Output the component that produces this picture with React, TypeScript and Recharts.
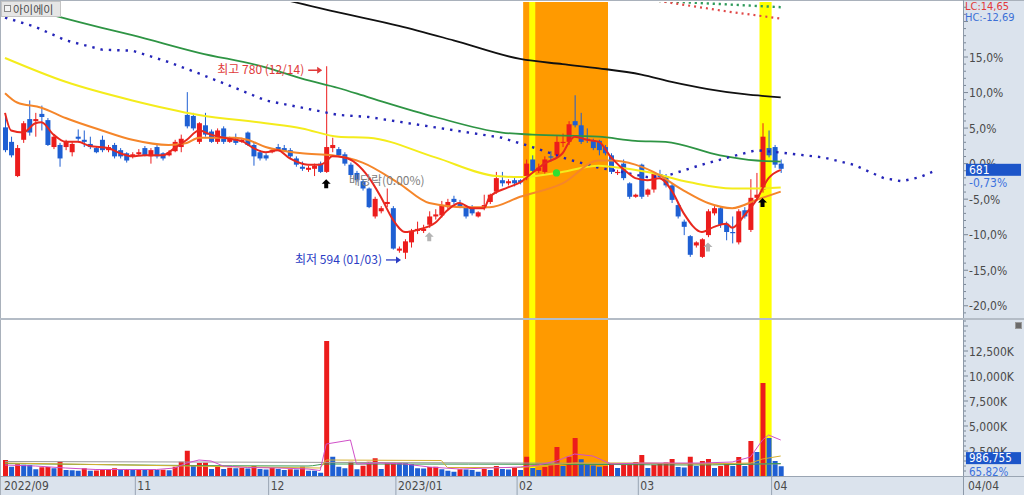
import React from 'react';
import { ComposedChart, Bar, Line, XAxis, YAxis, ReferenceArea, Cell } from 'recharts';

// ---------- fonts & colours ----------
const FONT = '"Liberation Sans Narrow", "DejaVu Sans Condensed", "Liberation Sans", "Noto Sans CJK KR", sans-serif';
const KFONT = '"Noto Sans CJK KR", "Noto Sans", sans-serif';
const UP = '#ec1c1c';
const DOWN = '#1e5fd3';
const PANEL_BG = '#dbe3ed';
const AXIS_TEXT = '#4a4a4a';

// ---------- layout ----------
const SLOT_COUNT = 158; // trading days shown + empty future slots
const SLOT_W = 6.06;
const PLOT_LEFT = 2;
const PLOT_W = SLOT_COUNT * SLOT_W;
const AXIS_W = 1024 - PLOT_LEFT - PLOT_W;
const PANEL_X = 963;

// ---------- data ----------
const stockName = '아이에이';
const basePrice = 686;

const monthStarts = [0, 22, 44, 65, 85, 105, 127];
const monthLabels = ['2022/09', '11', '12', '2023/01', '02', '03', '04'];
const lastDateLabel = '04/04';

const opens = [
  721, 707, 674, 709, 729, 727, 734, 728, 702, 704, 702, 697, 712, 709, 705, 701, 709, 699, 704, 699,
  696, 693, 695, 701, 693, 702, 696, 694, 698, 702, 733, 732, 707, 723, 717, 707, 720, 707, 710, 707,
  716, 704, 697, 694, 697, 702, 701, 699, 691, 683, 680, 681, 686, 678, 701, 700, 695, 685, 677, 669,
  662, 635, 640, 647, 643, 602, 600, 610, 621, 621, 627, 635, 636, 644, 652, 648, 644, 644, 635, 643,
  649, 659, 670, 667, 670, 670, 672, 690, 679, 678, 693, 694, 706, 707, 727, 723, 710, 708, 708, 702,
  694, 677, 686, 667, 654, 685, 656, 661, 676, 674, 665, 646, 630, 616, 607, 596, 617, 638, 643, 628,
  620, 610, 641, 622, 653, 661, 701, 702, 686,
];
const highs = [
  733, 712, 704, 727, 747, 735, 742, 730, 714, 706, 709, 707, 719, 718, 712, 703, 713, 704, 706, 701,
  697, 697, 700, 703, 701, 705, 697, 699, 709, 714, 755, 735, 726, 735, 719, 720, 722, 712, 715, 711,
  717, 706, 699, 696, 701, 705, 704, 701, 693, 688, 684, 686, 688, 780, 711, 702, 697, 687, 679, 671,
  663, 654, 645, 662, 645, 606, 613, 623, 630, 627, 640, 642, 650, 652, 655, 651, 646, 646, 640, 656,
  657, 678, 678, 671, 672, 671, 690, 694, 686, 693, 698, 713, 715, 727, 752, 735, 720, 710, 709, 704,
  696, 680, 690, 668, 657, 686, 662, 677, 680, 676, 667, 649, 632, 617, 611, 614, 642, 645, 645, 630,
  635, 642, 644, 671, 677, 725, 718, 704, 690,
];
const lows = [
  697, 692, 673, 706, 713, 712, 718, 703, 700, 683, 699, 693, 708, 702, 700, 696, 697, 697, 691, 691,
  687, 691, 694, 693, 686, 691, 689, 693, 697, 697, 720, 718, 705, 712, 706, 705, 705, 706, 704, 706,
  703, 684, 689, 689, 696, 698, 697, 691, 683, 679, 678, 674, 677, 677, 697, 693, 684, 673, 668, 660,
  643, 633, 638, 644, 603, 600, 594, 605, 618, 619, 624, 632, 634, 642, 647, 643, 633, 636, 634, 641,
  647, 657, 664, 665, 664, 666, 670, 677, 677, 676, 688, 692, 702, 704, 721, 705, 706, 699, 694, 694,
  676, 675, 670, 652, 653, 652, 654, 658, 671, 663, 648, 633, 617, 596, 605, 595, 615, 636, 624, 612,
  609, 608, 633, 620, 650, 658, 692, 682, 677,
];
const closes = [
  699, 694, 701, 725, 716, 729, 731, 704, 712, 691, 707, 705, 710, 707, 702, 697, 699, 702, 693, 693,
  689, 695, 697, 694, 699, 693, 691, 697, 707, 710, 722, 720, 725, 714, 707, 718, 707, 710, 706, 709,
  704, 693, 691, 691, 699, 699, 698, 693, 685, 681, 682, 684, 678, 702, 704, 694, 686, 675, 670, 662,
  644, 652, 643, 649, 604, 604, 611, 621, 623, 623, 635, 637, 646, 649, 649, 645, 635, 638, 639, 646,
  656, 672, 667, 669, 667, 668, 686, 679, 682, 690, 692, 707, 707, 724, 723, 707, 709, 701, 699, 696,
  678, 678, 672, 654, 656, 654, 661, 676, 673, 665, 651, 635, 625, 598, 610, 613, 640, 643, 627, 620,
  619, 640, 635, 653, 656, 712, 694, 685, 681,
];

// daily volume, thousands of shares
const volumes = [
  1600, 930, 1170, 1130, 1100, 670, 870, 900, 770, 1430, 600, 580, 530, 770, 530, 560, 600, 650, 770, 600,
  700, 650, 680, 620, 640, 600, 620, 580, 930, 1430, 2530, 1100, 1300, 1330, 700, 930, 700, 830, 770, 800,
  750, 1000, 700, 650, 830, 700, 600, 667, 650, 933, 530, 520, 330, 13500, 1930, 930, 770, 1430, 670, 1030,
  1430, 1770, 700, 1270, 1330, 1300, 1270, 1200, 770, 760, 900, 930, 670, 530, 430, 670, 650, 600, 430, 700,
  600, 1000, 700, 650, 800, 600, 1930, 800, 600, 900, 1100, 2900, 1000, 1930, 3800, 1670, 1100, 1050, 930, 1000,
  1300, 800, 1100, 1150, 1400, 2100, 800, 1100, 1300, 1350, 1700, 900, 850, 1930, 1000, 1500, 1700, 800, 1000, 1300,
  1000, 1900, 1000, 3500, 2400, 9300, 3800, 1499.17, 986.755,
];

// moving-average readings: [slot, price]
const ma5Pts: [number, number][] = [
  [0, 735], [1, 718], [3, 716], [5, 725], [6, 726], [8, 714], [10, 707], [12, 707], [14, 703], [17, 701],
  [19, 696], [21, 693], [23, 694], [26, 694], [28, 701], [30, 709], [32, 718], [34, 714], [37, 710], [39, 708],
  [41, 701], [43, 697], [45, 699], [47, 691], [50, 685], [52, 685], [53, 688], [54, 693], [56, 692], [60, 673],
  [62, 654], [64, 632], [66, 620], [68, 622], [71, 629], [73, 641], [75, 648], [77, 643], [79, 643], [80, 654],
  [83, 663], [85, 668], [87, 677], [89, 686], [92, 696], [93, 706], [94, 712], [96, 709], [98, 707], [100, 692],
  [103, 676], [104, 672], [106, 670], [108, 672], [110, 660], [112, 638], [115, 620], [117, 625], [119, 628],
  [120, 624], [122, 636], [124, 651], [126, 672], [128, 680],
];
const ma20Pts: [number, number][] = [
  [0, 754], [2, 745], [6, 740], [10, 730], [16, 718], [21, 709], [27, 704], [30, 706], [32, 711], [38, 711],
  [40, 709], [43, 702], [49, 696], [54, 694], [59, 687], [65, 667], [70, 648], [76, 644], [80, 644], [85, 654],
  [92, 667], [98, 689], [100, 689], [104, 685], [107, 678], [112, 660], [116, 648], [120, 643], [124, 651], [128, 659],
];
const ma60Pts: [number, number][] = [
  [0, 788], [10, 765], [21, 747], [32, 733], [43, 725], [49, 720], [55, 712], [60, 711], [71, 692], [81, 674],
  [85, 673], [91, 677], [98, 684], [100, 683], [106, 678], [113, 668], [120, 662], [124, 662], [128, 663],
];
const ma120Pts: [number, number][] = [
  [0, 842], [8, 829], [16, 817], [21, 810], [32, 793], [43, 779], [49, 768], [55, 759], [60, 750], [71, 731],
  [82, 716], [87, 714], [98, 712], [104, 708], [109, 707], [118, 694], [124, 689], [128, 688],
];
const ma240Pts: [number, number][] = [
  [45, 846], [47, 843], [55, 832], [65, 819], [74, 805], [85, 787], [92, 782], [98, 778], [105, 772], [110, 765],
  [116, 758], [122, 753], [128, 750],
];
const leadPts: [number, number][] = [
  [0, 827], [5, 818], [10, 805], [16, 796], [21, 795], [27, 784], [32, 773], [38, 759], [43, 747], [49, 740],
  [55, 733], [60, 731], [71, 721], [82, 711], [87, 702], [93, 690], [98, 682], [100, 680], [106, 673], [109, 674],
  [115, 685], [120, 693], [124, 699], [129, 696], [135, 692], [140, 685], [145, 672], [148, 669], [151, 673], [153, 678],
];
const spanUpPts: [number, number][] = [[100, 848], [108, 843], [118, 840], [128, 837]];
const spanDnPts: [number, number][] = [[100, 850], [109, 842], [119, 833], [128, 826]];

// volume averages, thousands of shares
const vma5Pts: [number, number][] = [
  [0, 1100], [5, 1000], [10, 800], [15, 650], [20, 650], [25, 650], [28, 800], [30, 1300], [32, 1600], [34, 1500],
  [36, 1000], [40, 850], [45, 800], [50, 700], [52, 550], [53, 3200], [57, 3600], [58, 1200], [62, 1300], [66, 1200],
  [70, 900], [75, 700], [80, 800], [85, 900], [88, 1100], [91, 1500], [94, 2200], [97, 2000], [100, 1200], [105, 1300],
  [110, 1300], [115, 1300], [120, 1400], [123, 1900], [125, 3600], [126, 4100], [128, 3600],
];
const vma20Pts: [number, number][] = [
  [0, 1300], [20, 1100], [40, 900], [52, 800], [53, 1600], [72, 1550], [73, 850], [85, 850], [94, 1300], [105, 1300],
  [115, 1200], [123, 1300], [125, 1700], [128, 2000],
];
const vma60Pts: [number, number][] = [[0, 1250], [50, 1000], [53, 1200], [100, 1150], [113, 1100], [128, 1250]];
const vma120Pts: [number, number][] = [[0, 1450], [60, 1350], [128, 1200]];

// chart signals
const blackArrows = [{ i: 53, price: 666 }, { i: 125, price: 648 }];
const grayArrows = [{ i: 70, price: 615 }, { i: 116, price: 605 }];
const greenSignals = [{ i: 91, price: 677 }];
const exDividend = { i: 63, price: 669, text: '배당락(0.00%)' };
const highlightOrange = [86, 99];
const highlightYellow: [number, number][] = [[87, 87], [125, 126]];

// ---------- derived values ----------
const lastIdx = closes.length - 1;
const lastClose = closes[lastIdx];
const lastVol = volumes[lastIdx];
const periodHigh = Math.max(...highs);
const periodLow = Math.min(...lows);
const highIdx = highs.indexOf(periodHigh);
const lowIdx = lows.indexOf(periodLow);

const dateOf = (idx: number) => {
  // labels for the extreme days
  const map: Record<number, string> = { 53: '12/14', 66: '01/03' };
  return map[idx] ?? '';
};

const pctOf = (p: number) => (p / basePrice - 1) * 100;
const fmtNum = (v: number, d: number) => v.toFixed(d).replace('.', ',');
const fmtPct = (k: number, d: number) => (k < 0 ? '-' : '') + fmtNum(Math.abs(k), d) + '%';

type Row = Record<string, number | null> & { i: number };
const rows: Row[] = Array.from({ length: SLOT_COUNT }, (_, i) => ({
  i,
  open: opens[i] ?? null,
  high: highs[i] ?? null,
  low: lows[i] ?? null,
  close: closes[i] ?? null,
  vol: volumes[i] ?? null,
}));
const place = (key: string, pts: [number, number][]) => {
  for (const [i, v] of pts) rows[i][key] = v;
};
place('ma5', ma5Pts);
place('ma20', ma20Pts);
place('ma60', ma60Pts);
place('ma120', ma120Pts);
place('ma240', ma240Pts);
place('lead', leadPts);
place('spanUp', spanUpPts);
place('spanDn', spanDnPts);
place('vma5', vma5Pts);
place('vma20', vma20Pts);
place('vma60', vma60Pts);
place('vma120', vma120Pts);
blackArrows.forEach((m) => (rows[m.i].blackArrow = m.price));
grayArrows.forEach((m) => (rows[m.i].grayArrow = m.price));
greenSignals.forEach((m) => (rows[m.i].greenSig = m.price));
rows[exDividend.i].exDiv = exDividend.price;
rows[highIdx].hiMark = periodHigh;
rows[lowIdx].loMark = periodLow;

const volColor = (i: number) => (i > 0 && volumes[i] < volumes[i - 1] ? DOWN : UP);

// ---------- ticks ----------
const priceTicks: number[] = [];
for (let k = -21; k <= 22; k++) priceTicks.push(basePrice * (1 + k / 100));
priceTicks.push(lastClose);
const pctLabelMax = 15;

const volTicks: number[] = [];
for (let v = 500; v <= 15500; v += 500) volTicks.push(v);
volTicks.push(lastVol);
const volLabelMax = 12500;

// ---------- custom renderers ----------
const Candle = (props: any) => {
  const { x, y, width, height, payload } = props;
  if (!payload || payload.open == null) return <g />;
  const { open, close, high, low } = payload;
  const top = Math.min(y, y + height);
  const h = Math.abs(height);
  const toY = (v: number) => top + ((high - v) / (high - low)) * h;
  const color = close >= open ? UP : DOWN;
  const b1 = toY(Math.max(open, close));
  const b2 = toY(Math.min(open, close));
  const cx = x + width / 2;
  return (
    <g>
      <line x1={cx} x2={cx} y1={top} y2={top + h} stroke={color} strokeWidth={1} />
      <rect x={x} y={b1} width={width} height={Math.max(1.2, b2 - b1)} fill={color} />
    </g>
  );
};

const arrowPath = (cx: number, cy: number) =>
  `M${cx},${cy - 5} L${cx + 4.5},${cy - 0.5} L${cx + 2},${cy - 0.5} L${cx + 2},${cy + 4} L${cx - 2},${cy + 4} L${cx - 2},${cy - 0.5} L${cx - 4.5},${cy - 0.5} Z`;

const makeArrowDot = (fill: string) => (p: any) => {
  if (p.value == null || p.cy == null) return <g key={p.key ?? `a${p.index}`} />;
  return <path key={p.key ?? `a${p.index}`} d={arrowPath(p.cx, p.cy)} fill={fill} />;
};

const greenDot = (p: any) => {
  if (p.value == null || p.cy == null) return <g key={p.key ?? `g${p.index}`} />;
  return <circle key={p.key ?? `g${p.index}`} cx={p.cx} cy={p.cy} r={3.6} fill="#30e030" />;
};

const exDivDot = (p: any) => {
  if (p.value == null || p.cy == null) return <g key={p.key ?? `e${p.index}`} />;
  return (
    <text key={p.key ?? `e${p.index}`} x={p.cx} y={p.cy + 4} textAnchor="middle" fontSize={12} fill="#808080" fontFamily={KFONT}>
      {exDividend.text}
    </text>
  );
};

const hiDot = (p: any) => {
  if (p.value == null || p.cy == null) return <g key={p.key ?? `h${p.index}`} />;
  const y = p.cy + 4;
  const end = p.cx - 4;
  return (
    <g key={p.key ?? `h${p.index}`}>
      <text x={end - 18} y={y + 4} textAnchor="end" fontSize={12} fill="#e03a3a" fontFamily={KFONT}>
        {`최고 ${periodHigh} (${dateOf(highIdx)})`}
      </text>
      <line x1={end - 14} x2={end - 4} y1={y} y2={y} stroke="#e03a3a" strokeWidth={1.3} />
      <path d={`M${end},${y} L${end - 5},${y - 3.5} L${end - 5},${y + 3.5} Z`} fill="#e03a3a" />
    </g>
  );
};

const loDot = (p: any) => {
  if (p.value == null || p.cy == null) return <g key={p.key ?? `l${p.index}`} />;
  const y = p.cy + 1;
  const end = p.cx - 4;
  return (
    <g key={p.key ?? `l${p.index}`}>
      <text x={end - 19} y={y + 4} textAnchor="end" fontSize={12} fill="#2a3cc4" fontFamily={KFONT}>
        {`최저 ${periodLow} (${dateOf(lowIdx)})`}
      </text>
      <line x1={end - 15} x2={end - 4} y1={y} y2={y} stroke="#2a3cc4" strokeWidth={1.3} />
      <path d={`M${end},${y} L${end - 5},${y - 3.5} L${end - 5},${y + 3.5} Z`} fill="#2a3cc4" />
    </g>
  );
};

const PriceTick = (props: any) => {
  const { y, payload } = props;
  const v = payload.value as number;
  if (v === lastClose) {
    return (
      <g>
        <rect x={PANEL_X + 3} y={y - 5} width={55} height={12} fill="#1c55c9" />
        <text x={PANEL_X + 6} y={y + 5.5} fontSize={12} fill="#ffffff" fontFamily={FONT}>{lastClose}</text>
        <text x={PANEL_X + 6} y={y + 18} fontSize={12} fill="#3b72de" fontFamily={FONT}>{fmtPct(pctOf(lastClose), 2)}</text>
      </g>
    );
  }
  const k = Math.round(pctOf(v));
  const major = k % 5 === 0;
  return (
    <g>
      <line x1={PANEL_X} x2={PANEL_X + (major ? 5 : 3)} y1={y} y2={y} stroke="#7b8796" />
      {major && k <= pctLabelMax && (
        <text x={PANEL_X + 6} y={y + 4.5} fontSize={12} fill={AXIS_TEXT} fontFamily={FONT}>
          {fmtPct(k, 1)}
        </text>
      )}
    </g>
  );
};

const VolTick = (props: any) => {
  const { y, payload } = props;
  const v = payload.value as number;
  if (v === lastVol) {
    const ratio = (volumes[lastIdx] / volumes[lastIdx - 1]) * 100;
    return (
      <g>
        <rect x={PANEL_X + 3} y={y - 14} width={55} height={12} fill="#1c55c9" />
        <text x={PANEL_X + 6} y={y - 4} fontSize={11.5} fill="#ffffff" fontFamily={FONT}>
          {Math.round(lastVol * 1000).toLocaleString('en-US')}
        </text>
        <text x={PANEL_X + 6} y={y + 9.5} fontSize={11.5} fill="#3b72de" fontFamily={FONT}>{fmtNum(ratio, 2) + '%'}</text>
      </g>
    );
  }
  const major = v % 2500 === 0;
  return (
    <g>
      <line x1={PANEL_X} x2={PANEL_X + (major ? 5 : 3)} y1={y} y2={y} stroke="#7b8796" />
      {major && v <= volLabelMax && (
        <text x={PANEL_X + 6} y={y + 4.5} fontSize={12} fill={AXIS_TEXT} fontFamily={FONT}>
          {v.toLocaleString('en-US') + 'K'}
        </text>
      )}
    </g>
  );
};

const MonthTick = (props: any) => {
  const { x, payload } = props;
  const idx = monthStarts.indexOf(payload.value);
  const start = x - SLOT_W / 2;
  return (
    <g>
      {payload.value !== 0 && <line x1={start} x2={start} y1={156} y2={175} stroke="#98a4b3" />}
      <text x={start + 2} y={170} fontSize={12} fill={AXIS_TEXT} fontFamily={FONT}>
        {monthLabels[idx]}
      </text>
    </g>
  );
};

const bands = (yAxisId: string) => [
  <ReferenceArea key={`o-${yAxisId}`} yAxisId={yAxisId} x1={highlightOrange[0]} x2={highlightOrange[1]} fill="#ff9a00" fillOpacity={1} stroke="none" />,
  ...highlightYellow.map(([a, b]) => (
    <ReferenceArea key={`y-${yAxisId}-${a}`} yAxisId={yAxisId} x1={a} x2={b} fill="#ffff00" fillOpacity={1} stroke="none" />
  )),
];

const lineProps = { dot: false, connectNulls: true, isAnimationActive: false, activeDot: false } as const;

function PriceChart() {
  return (
    <ComposedChart width={1024} height={320} data={rows} margin={{ top: 2, right: 0, bottom: 2, left: PLOT_LEFT }}>
      <XAxis dataKey="i" type="category" hide />
      <YAxis
        yAxisId="p"
        orientation="right"
        width={AXIS_W}
        domain={[537, 842]}
        allowDataOverflow
        ticks={priceTicks}
        interval={0}
        tick={<PriceTick />}
        axisLine={false}
        tickLine={false}
      />
      {bands('p')}
      <Line yAxisId="p" dataKey="spanUp" stroke="#2e9a5a" strokeWidth={2.4} strokeDasharray="2.2 3.8" type="linear" {...lineProps} />
      <Line yAxisId="p" dataKey="spanDn" stroke="#e04848" strokeWidth={2.2} strokeDasharray="2 4" type="linear" {...lineProps} />
      <Line yAxisId="p" dataKey="ma240" stroke="#111111" strokeWidth={1.8} type="monotone" {...lineProps} />
      <Line yAxisId="p" dataKey="ma120" stroke="#2e9444" strokeWidth={1.8} type="monotone" {...lineProps} />
      <Line yAxisId="p" dataKey="lead" stroke="#2424b8" strokeWidth={2.4} strokeDasharray="2.4 6" type="linear" {...lineProps} />
      <Line yAxisId="p" dataKey="ma60" stroke="#f4ec1c" strokeWidth={2} type="monotone" {...lineProps} />
      <Bar yAxisId="p" dataKey={(d: any) => (d.open == null ? null : [d.low, d.high])} shape={Candle} barSize={5} isAnimationActive={false} />
      <Line yAxisId="p" dataKey="ma20" stroke="#f5862a" strokeWidth={2} type="monotone" {...lineProps} />
      <Line yAxisId="p" dataKey="ma5" stroke="#e8281e" strokeWidth={2} type="monotone" {...lineProps} />
      <Line yAxisId="p" dataKey="blackArrow" stroke="none" isAnimationActive={false} dot={makeArrowDot('#000000')} activeDot={false} />
      <Line yAxisId="p" dataKey="grayArrow" stroke="none" isAnimationActive={false} dot={makeArrowDot('#b4b4b4')} activeDot={false} />
      <Line yAxisId="p" dataKey="greenSig" stroke="none" isAnimationActive={false} dot={greenDot} activeDot={false} />
      <Line yAxisId="p" dataKey="exDiv" stroke="none" isAnimationActive={false} dot={exDivDot} activeDot={false} />
      <Line yAxisId="p" dataKey="hiMark" stroke="none" isAnimationActive={false} dot={hiDot} activeDot={false} />
      <Line yAxisId="p" dataKey="loMark" stroke="none" isAnimationActive={false} dot={loDot} activeDot={false} />
    </ComposedChart>
  );
}

function VolumeChart() {
  return (
    <ComposedChart width={1024} height={175} data={rows} margin={{ top: 0, right: 0, bottom: 0, left: PLOT_LEFT }}>
      <XAxis
        dataKey="i"
        type="category"
        ticks={monthStarts}
        interval={0}
        tick={<MonthTick />}
        axisLine={false}
        tickLine={false}
        height={19}
      />
      <YAxis
        yAxisId="v"
        orientation="right"
        width={AXIS_W}
        domain={[0, 15600]}
        allowDataOverflow
        ticks={volTicks}
        interval={0}
        tick={<VolTick />}
        axisLine={false}
        tickLine={false}
      />
      {bands('v')}
      <Bar yAxisId="v" dataKey="vol" barSize={5} isAnimationActive={false}>
        {rows.map((r) => (
          <Cell key={r.i} fill={r.vol == null ? 'none' : volColor(r.i)} />
        ))}
      </Bar>
      <Line yAxisId="v" dataKey="vma120" stroke="#9a9a9a" strokeWidth={1} type="monotone" {...lineProps} />
      <Line yAxisId="v" dataKey="vma60" stroke="#3c9a50" strokeWidth={1} type="monotone" {...lineProps} />
      <Line yAxisId="v" dataKey="vma20" stroke="#d6b030" strokeWidth={1} type="linear" {...lineProps} />
      <Line yAxisId="v" dataKey="vma5" stroke="#d050c8" strokeWidth={1} type="linear" {...lineProps} />
    </ComposedChart>
  );
}

export default function App() {
  const lc = ((lastClose - periodLow) / periodLow) * 100;
  const hc = ((lastClose - periodHigh) / periodHigh) * 100;
  return (
    <div style={{ position: 'absolute', left: 0, top: 0, width: 1024, height: 495, background: '#ffffff', overflow: 'hidden', fontFamily: FONT }}>
      <div style={{ position: 'absolute', left: PANEL_X, top: 0, width: 1024 - PANEL_X, height: 476, background: PANEL_BG }} />
      <div style={{ position: 'absolute', left: 0, top: 476, width: 1024, height: 19, background: PANEL_BG }} />
      <div style={{ position: 'absolute', left: 0, top: 0 }}>
        <PriceChart />
      </div>
      <div style={{ position: 'absolute', left: 0, top: 320 }}>
        <VolumeChart />
      </div>
      {/* frame lines */}
      <div style={{ position: 'absolute', left: 0, top: 0, width: 1024, height: 1, background: '#a9b1bb' }} />
      <div style={{ position: 'absolute', left: 0, top: 0, width: 1, height: 495, background: '#a9b1bb' }} />
      <div style={{ position: 'absolute', left: PANEL_X, top: 0, width: 1, height: 495, background: '#8d99a8' }} />
      <div style={{ position: 'absolute', left: 0, top: 318, width: 1024, height: 2, background: '#b4bcc6' }} />
      <div style={{ position: 'absolute', left: 0, top: 476, width: 1024, height: 1, background: '#9aa5b3' }} />
      {/* stock name tag */}
      <div
        style={{
          position: 'absolute', left: 1, top: 1, width: 60, height: 16, background: '#e6e6e6',
          border: '1px solid #c4c4c4', boxSizing: 'border-box', overflow: 'hidden',
        }}
      >
        <div style={{ position: 'absolute', left: 2, top: 3, width: 5, height: 5, border: '1px solid #8a8a8a', background: '#f4f4f4' }} />
        <div style={{ position: 'absolute', left: 11, top: 0, fontFamily: KFONT, fontSize: 11, color: '#4a4a4a', lineHeight: '14px', whiteSpace: 'nowrap' }}>
          {stockName}
        </div>
      </div>
      {/* change from period low / high */}
      <div style={{ position: 'absolute', left: 965, top: 1, fontSize: 11, lineHeight: '11px', color: '#e23a3a', whiteSpace: 'nowrap' }}>
        {'LC:' + fmtNum(lc, 2)}
      </div>
      <div style={{ position: 'absolute', left: 965, top: 12, fontSize: 11, lineHeight: '11px', color: '#3b6fd6', whiteSpace: 'nowrap' }}>
        {'HC:' + fmtNum(hc, 2)}
      </div>
      <div style={{ position: 'absolute', left: 1015, top: 322, width: 5, height: 5, background: '#6b6b6b', border: '1px solid #9a9a9a' }} />
      <div style={{ position: 'absolute', left: 968, top: 479, fontSize: 12, lineHeight: '14px', color: AXIS_TEXT }}>{lastDateLabel}</div>
    </div>
  );
}
